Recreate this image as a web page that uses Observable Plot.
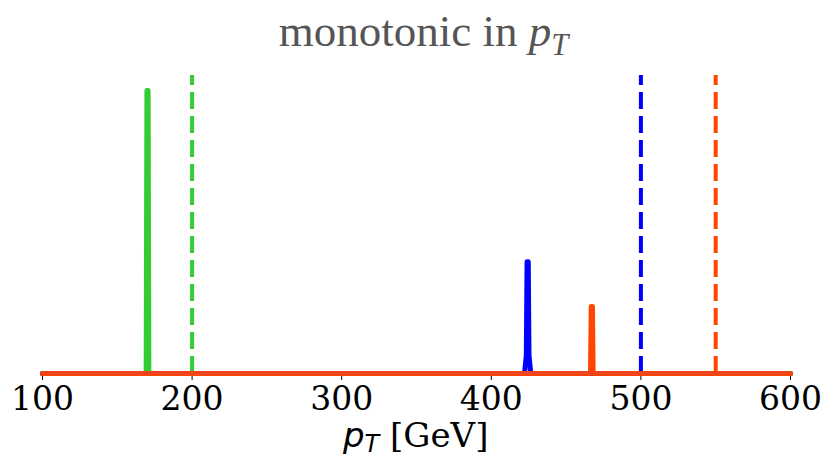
<!DOCTYPE html>
<html>
<head>
<meta charset="utf-8">
<script src="https://cdn.jsdelivr.net/npm/d3@7"></script>
<script src="https://cdn.jsdelivr.net/npm/@observablehq/plot@0.6"></script>
<style>
  body { margin: 0; background: #fff; }
  #wrap { width: 839px; height: 459px; }
  #title { height: 60px; line-height: 60px; padding-top: 1px; box-sizing: border-box; padding-left: 8px;
           text-align: center; font-family: "Liberation Serif", "Times New Roman", serif; font-size: 45px; color: #555; }
  #title sub { font-size: 0.68em; line-height: 0; vertical-align: -0.3em; font-style: italic; }
</style>
</head>
<body>
<div id="wrap">
  <div id="title">monotonic in <i>p</i><sub>T</sub></div>
  <div id="chart"></div>
</div>
<script>
// x ticks
const xTicks = [100, 200, 300, 400, 500, 600];

// solid (measured) peaks: pT values and normalized heights
const seriesNames = ["sample A", "sample B", "sample C"];
const greenX = [100, 169.3, 169.8, 170.6, 171.1, 600];
const greenY = [0, 0, 0.95, 0.95, 0, 0];
const blueX = [100, 422.2, 423.4, 423.9, 424.7, 425.2, 426.4, 600];
const blueY = [0, 0, 0.06, 0.375, 0.375, 0.06, 0, 0];
const orangeX = [100, 466.3, 466.8, 467.6, 468.1, 600];
const orangeY = [0, 0, 0.225, 0.225, 0, 0];

// dashed reference lines (true pT)
const refX = [200, 500, 550];

const palette = ["#33cc33", "#0000ff", "#ff4500"];

const toRows = (xs, ys, s) => xs.map((x, i) => ({ x, y: ys[i], s }));
const peaks = [
  ...toRows(greenX, greenY, seriesNames[0]),
  ...toRows(blueX, blueY, seriesNames[1]),
  ...toRows(orangeX, orangeY, seriesNames[2])
];
const refs = refX.map((x, i) => ({ x, s: seriesNames[i] }));

const plot = Plot.plot({
  width: 839,
  height: 399,
  marginLeft: 42,
  marginRight: 49,
  marginTop: 15,
  marginBottom: 86,
  x: { domain: [100, 600] },
  y: { domain: [0, 1], axis: null },
  color: { domain: seriesNames, range: palette },
  marks: [
    Plot.ruleY([0], { stroke: "#000", strokeWidth: 1.5, dy: 1.5 }),
    Plot.axisX({
      ticks: xTicks,
      tickSize: 7,
      tickPadding: 6,
      fontSize: 33,
      fontFamily: "DejaVu Serif",
      fill: "#000",
      stroke: "#000",
      strokeWidth: 1,
      label: null,
      tickFormat: d => String(d)
    }),
    Plot.ruleX(refs, { x: "x", y1: 0, y2: 1, stroke: "s", strokeWidth: 4, strokeDasharray: "17,7" }),
    Plot.line(peaks, { x: "x", y: "y", z: "s", stroke: "s", strokeWidth: 5, strokeLinecap: "round", strokeLinejoin: "round" }),
    Plot.ruleY([0], { stroke: "#e8442a", strokeWidth: 2.5, dy: -0.5 })
  ]
});
document.getElementById("chart").appendChild(plot);

// x-axis label with math-style p_T
const svg = d3.select(plot);
const lab = svg.append("text")
  .attr("x", 343).attr("y", 447 - 60)
  .attr("text-anchor", "start")
  .attr("font-size", 34).attr("fill", "#000");
lab.append("tspan").attr("font-family", "DejaVu Sans").attr("font-style", "italic").text("p");
lab.append("tspan").attr("font-family", "DejaVu Sans").attr("font-style", "italic")
  .attr("font-size", 24).attr("dy", 5).text("T");
lab.append("tspan").attr("font-family", "DejaVu Serif").attr("dy", -5).text(" [GeV]");
</script>
</body>
</html>
